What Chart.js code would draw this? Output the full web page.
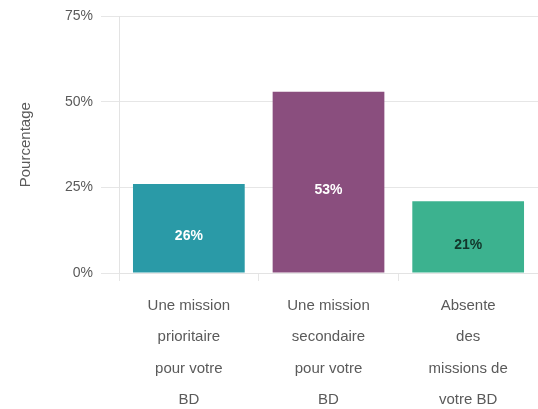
<!DOCTYPE html>
<html>
<head>
<meta charset="utf-8">
<script src="https://cdn.jsdelivr.net/npm/chart.js@4"></script>
<style>
  html, body { margin: 0; padding: 0; background: #fff; }
  #wrap { width: 538px; height: 409px; }
</style>
</head>
<body>
<div id="wrap"><canvas id="chart"></canvas></div>
<script>
const categories = [
	['Une mission', 'prioritaire', 'pour votre', 'BD'],
	['Une mission', 'secondaire', 'pour votre', 'BD'],
	['Absente', 'des', 'missions de', 'votre BD']
];
const values = [26, 53, 21];
const barColors = ['#2a9aa7', '#8a4e7e', '#3cb28f'];
const labelColors = ['#ffffff', '#ffffff', '#12352a'];
const yTicks = [0, 25, 50, 75];

// value labels written inside each bar
const barLabels = {
	id: 'barLabels',
	afterDatasetsDraw(chart) {
		const ctx = chart.ctx;
		const meta = chart.getDatasetMeta(0);
		ctx.save();
		ctx.font = 'bold 14px "Liberation Sans", Arial, sans-serif';
		ctx.textAlign = 'center';
		ctx.textBaseline = 'middle';
		meta.data.forEach((bar, i) => {
			const y = (bar.y + bar.base) / 2 + 8;
			ctx.fillStyle = labelColors[i];
			ctx.fillText(values[i] + '%', bar.x, y);
		});
		ctx.restore();
	}
};

const ctx = document.getElementById('chart');

new Chart(ctx, {
	type: 'bar',
	data: {
		labels: categories,
		datasets: [{
			data: values,
			backgroundColor: barColors,
			borderWidth: 0,
			barPercentage: 0.8,
			categoryPercentage: 1
		}]
	},
	plugins: [barLabels],
	options: {
		responsive: true,
		maintainAspectRatio: false,
		animation: false,
		devicePixelRatio: 1,
		layout: {
			padding: { left: 17, right: 0, top: 10, bottom: 0 }
		},
		plugins: {
			legend: { display: false },
			tooltip: { enabled: false }
		},
		scales: {
			y: {
				min: 0,
				max: 75,
				afterBuildTicks: (axis) => {
					axis.ticks = yTicks.map(v => ({ value: v }));
				},
				border: { color: '#e3e3e3' },
				grid: {
					color: '#e6e6e6',
					tickLength: 18
				},
				ticks: {
					color: '#5a5a5a',
					padding: 8,
					font: { family: '"Liberation Sans", Arial, sans-serif', size: 14 },
					callback: (v) => v + '%'
				},
				title: {
					display: true,
					text: 'Pourcentage',
					color: '#5a5a5a',
					font: { family: '"Liberation Sans", Arial, sans-serif', size: 15 },
					padding: { top: 0, bottom: 22 }
				}
			},
			x: {
				afterFit: (scale) => {
					scale.height = 136;
				},
				border: { color: '#e3e3e3' },
				grid: {
					color: '#e6e6e6',
					drawOnChartArea: false,
					tickLength: 8
				},
				ticks: {
					color: '#5a5a5a',
					padding: 9,
					maxRotation: 0,
					font: { family: '"Liberation Sans", Arial, sans-serif', size: 15, lineHeight: 2.1 }
				}
			}
		}
	}
});
</script>
</body>
</html>
